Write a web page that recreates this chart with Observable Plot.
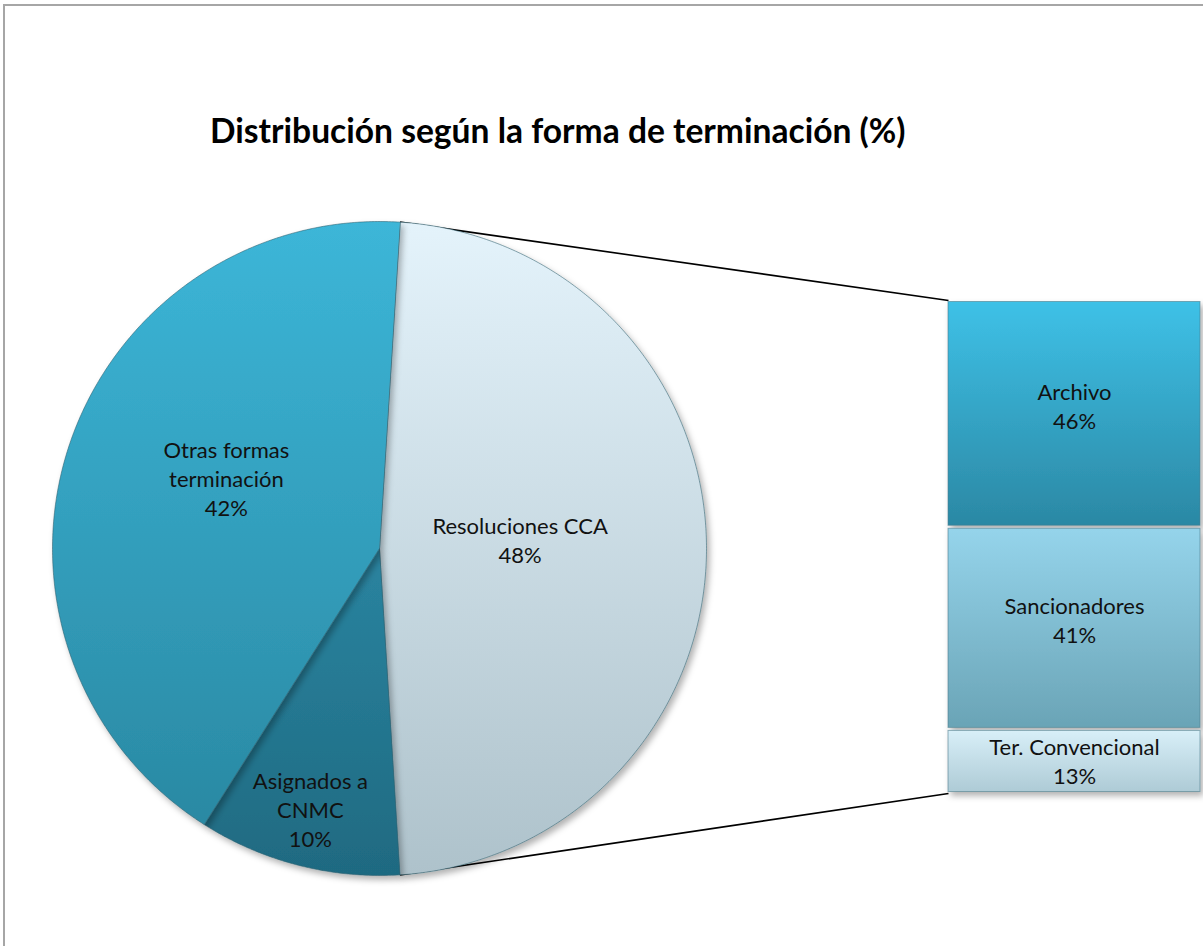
<!DOCTYPE html>
<html><head><meta charset="utf-8">
<script src="https://cdn.jsdelivr.net/npm/d3@7"></script>
<script src="https://cdn.jsdelivr.net/npm/@observablehq/plot@0.6"></script>
<style>
body{margin:0;width:1203px;height:946px;overflow:hidden;background:#fff;position:relative;font-family:Lato,sans-serif}
#frame{position:absolute;left:3px;top:4px;width:1300px;height:1000px;border:2px solid #a6a6a6;box-sizing:border-box}
#title{position:absolute;left:210px;top:110px;font-weight:bold;font-size:33.6px;font-family:Lato,sans-serif;color:#000;white-space:nowrap}
#chart{position:absolute;left:0;top:0}
</style></head><body>
<div id="frame"></div>
<div id="chart"></div>
<div id="title">Distribución según la forma de terminación (%)</div>
<script>
// ---- data ----
const pieCategories = ["Resoluciones CCA", "Asignados a CNMC", "Otras formas terminación"];
const pieLabels = ["Resoluciones CCA", "Asignados a\nCNMC", "Otras formas\nterminación"];
const pieValues = [48, 10, 42];
const barCategories = ["Archivo", "Sancionadores", "Ter. Convencional"];
const barValues = [46, 41, 13];

// ---- styles ----
const pieGrad = [["#e4f3fb", "#aec2cb"], ["#2a84a0", "#1f6a81"], ["#3cb6d8", "#2a89a3"]];
const barGrad = [["#3ec1e7", "#2b88a4"], ["#95d4eb", "#6aa4b6"], ["#d8eff8", "#aecbd6"]];
const labelRadius = [0.43, 0.85, 0.505];
const labelTurn = [0, 0, 4 * Math.PI / 180];
const barLabelShiftPx = [0, 0, 8];

// ---- layout (pixels) ----
const W = 1203, H = 946, CX = 379, CY = 548, R = 327;
const barLeft = 948, barRight = 1200, barTop = 300, barBottom = 793;
const u = px => (px - CX) / R;
const v = py => (CY - py) / R;

// pie geometry (unit circle, angles clockwise from top)
const total = d3.sum(pieValues);
const splitShare = pieValues[0] / total;
const start = Math.PI / 2 - splitShare * Math.PI;
let acc = start;
const slices = pieValues.map((val, i) => {
  const a0 = acc, a1 = acc + (val / total) * 2 * Math.PI;
  acc = a1;
  return {i, name: pieCategories[i], label: pieLabels[i] + "\n" + val + "%", a0, a1, mid: (a0 + a1) / 2};
});
const slicePts = slices.map(s => {
  const pts = [{x: 0, y: 0}];
  const n = Math.max(2, Math.ceil((s.a1 - s.a0) / (Math.PI / 360)));
  for (let j = 0; j <= n; j++) {
    const a = s.a0 + (s.a1 - s.a0) * j / n;
    pts.push({x: Math.sin(a), y: Math.cos(a)});
  }
  return pts;
});
const pieText = slices.map(s => {
  const a = s.mid + labelTurn[s.i];
  return {x: labelRadius[s.i] * Math.sin(a), y: labelRadius[s.i] * Math.cos(a), text: s.label};
});

// bar geometry
const bTotal = d3.sum(barValues);
const bx1 = u(barLeft), bx2 = u(barRight), byTop = v(barTop), byBot = v(barBottom);
let cum = 0;
const barRects = barValues.map((val, i) => {
  const y1 = byTop - (cum / bTotal) * (byTop - byBot);
  cum += val;
  const y2 = byTop - (cum / bTotal) * (byTop - byBot);
  return {i, x1: bx1, x2: bx2, y1, y2, fill: `url(#bg${i})`, text: barCategories[i] + "\n" + val + "%"};
});

// connector lines
const links = [
  {x1: Math.sin(start), y1: Math.cos(start), x2: bx1, y2: byTop},
  {x1: Math.sin(start + splitShare * 2 * Math.PI), y1: Math.cos(start + splitShare * 2 * Math.PI), x2: bx1, y2: byBot}
];

const chart = Plot.plot({
  width: W, height: H,
  margin: 0,
  x: {domain: [u(0), u(W)], range: [0, W], axis: null},
  y: {domain: [v(H), v(0)], range: [H, 0], axis: null},
  color: {type: "identity"},
  style: {fontFamily: "Lato, sans-serif", background: "transparent"},
  marks: [
    Plot.link(links, {x1: "x1", y1: "y1", x2: "x2", y2: "y2", stroke: "#000", strokeWidth: 1.6}),
    ...slicePts.map((pts, i) => Plot.line(pts, {x: "x", y: "y", fill: () => `url(#pg${i})`, stroke: "#2b5d6c", strokeOpacity: 0.55, strokeWidth: 1, curve: "linear-closed"})),
    Plot.rect(barRects, {x1: "x1", x2: "x2", y1: "y1", y2: "y2", fill: "fill", stroke: "#4d7d8c", strokeOpacity: 0.6, strokeWidth: 1, insetTop: 1.5, insetBottom: 1.5}),
    Plot.text(pieText, {x: "x", y: "y", text: "text", fontSize: 22, lineHeight: 1.32, dy: -9, fill: "#111"}),
    Plot.text(barRects, {x: d => (d.x1 + d.x2) / 2, y: d => (d.y1 + d.y2) / 2 - barLabelShiftPx[d.i] / R, text: "text", fontSize: 22, lineHeight: 1.32, dy: -9, fill: "#111"})
  ]
});

// gradients and shadow
const svg = d3.select(chart);
const defs = svg.insert("defs", ":first-child");
const addGrad = (id, c) => {
  const g = defs.append("linearGradient").attr("id", id).attr("x1", 0).attr("y1", 0).attr("x2", 0).attr("y2", 1);
  g.append("stop").attr("offset", "0%").attr("stop-color", c[0]);
  g.append("stop").attr("offset", "100%").attr("stop-color", c[1]);
};
pieGrad.forEach((c, i) => addGrad("pg" + i, c));
barGrad.forEach((c, i) => addGrad("bg" + i, c));
const f = defs.append("filter").attr("id", "sh").attr("x", "-10%").attr("y", "-10%").attr("width", "130%").attr("height", "130%");
f.append("feDropShadow").attr("dx", 3).attr("dy", 4).attr("stdDeviation", 3).attr("flood-color", "#000").attr("flood-opacity", 0.3);
svg.selectAll('g[aria-label="line"], g[aria-label="rect"]').attr("filter", "url(#sh)");

document.getElementById("chart").appendChild(chart);
</script>
</body></html>
